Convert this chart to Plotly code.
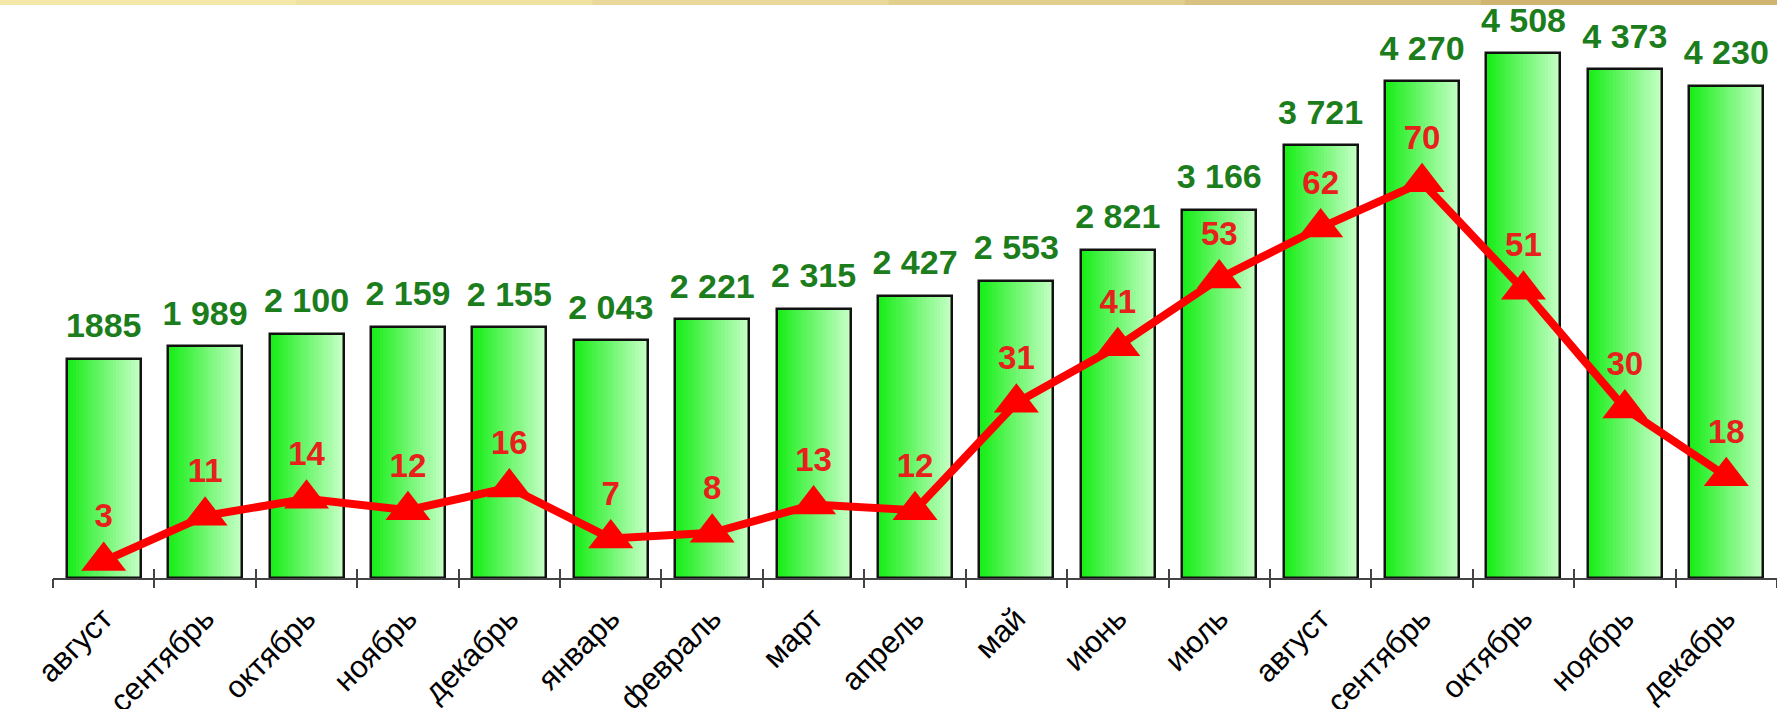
import plotly.graph_objects as go

months = ["август", "сентябрь", "октябрь", "ноябрь", "декабрь", "январь", "февраль",
          "март", "апрель", "май", "июнь", "июль", "август", "сентябрь", "октябрь",
          "ноябрь", "декабрь"]
bar_values = [1885, 1989, 2100, 2159, 2155, 2043, 2221, 2315, 2427, 2553, 2821,
              3166, 3721, 4270, 4508, 4373, 4230]
bar_labels = ["1885", "1 989", "2 100", "2 159", "2 155", "2 043", "2 221", "2 315",
              "2 427", "2 553", "2 821", "3 166", "3 721", "4 270", "4 508", "4 373",
              "4 230"]
line_values = [3, 11, 14, 12, 16, 7, 8, 13, 12, 31, 41, 53, 62, 70, 51, 30, 18]

# unique positional categories (months repeat across years)
x = list(range(len(months)))

FONT = "Arial, Liberation Sans, sans-serif"
BAR_W = 0.73
N_STRIPS = 24
c0 = (24, 238, 24)
c1 = (196, 255, 196)

fig = go.Figure()

for i in range(N_STRIPS):
    t = i / (N_STRIPS - 1)
    col = tuple(int(round(c0[k] + (c1[k] - c0[k]) * t)) for k in range(3))
    fig.add_trace(go.Bar(
        x=x, y=bar_values,
        width=BAR_W / N_STRIPS + 0.002,
        offset=-BAR_W / 2 + i * BAR_W / N_STRIPS,
        marker=dict(color="rgb(%d,%d,%d)" % col, line=dict(width=0)),
        showlegend=False, hoverinfo="skip",
    ))

# outline
fig.add_trace(go.Bar(
    x=x, y=bar_values, width=BAR_W, offset=-BAR_W / 2,
    marker=dict(color="rgba(0,0,0,0)", line=dict(color="#111111", width=2.5)),
    showlegend=False, hoverinfo="skip",
))

# green value labels
fig.add_trace(go.Scatter(
    x=x, y=bar_values, mode="markers+text", text=bar_labels,
    textposition="top center",
    marker=dict(size=19, opacity=0),
    textfont=dict(family=FONT, size=34, color="#1b7d1b", weight="bold"),
    showlegend=False, hoverinfo="skip", cliponaxis=False,
))

# red line
fig.add_trace(go.Scatter(
    x=x, y=line_values, yaxis="y2", mode="lines+markers+text",
    text=[str(v) for v in line_values], textposition="top center",
    line=dict(color="#ff0000", width=8),
    marker=dict(symbol="triangle-up", size=39, color="#ff0000"),
    textfont=dict(family=FONT, size=33, color="#e8201c", weight="bold"),
    showlegend=False, hoverinfo="skip", cliponaxis=False,
))

# top decorative band
band_cols = ["#f3e8a8", "#efe2a0", "#ead89a", "#e2cf8e", "#d9c27f", "#cfb46f"]
nb = len(band_cols)
x_left = -53 / 1724
span = 1 - x_left
for i, c in enumerate(band_cols):
    fig.add_shape(type="rect", xref="paper", yref="paper",
                  x0=x_left + span * i / nb, x1=x_left + span * (i + 1) / nb + 0.001,
                  y0=1.0178, y1=1.03,
                  fillcolor=c, line=dict(width=0), layer="above")

fig.update_layout(
    width=1777, height=709,
    margin=dict(l=53, r=0, t=15, b=131),
    paper_bgcolor="white", plot_bgcolor="white",
    barmode="overlay", bargap=0,
    xaxis=dict(
        tickmode="array", tickvals=x, ticktext=months,
        range=[-0.5, len(x) - 0.5],
        tickangle=-45, automargin=False,
        tickfont=dict(family=FONT, size=31, color="#000000"),
        showline=True, linecolor="#444444", linewidth=2,
        ticks="outside", ticklen=8, tickcolor="rgba(0,0,0,0)",
        showgrid=False, zeroline=False,
    ),
    xaxis2=dict(
        overlaying="x", matches="x", anchor="y", automargin=False,
        tickmode="array", tickvals=[v - 0.5 for v in x] + [len(x) - 0.5],
        ticks="inside", ticklen=9, tickwidth=1.5, tickcolor="#444444",
        showticklabels=False, showline=False, showgrid=False, zeroline=False,
        side="bottom",
    ),
    xaxis3=dict(
        overlaying="x", matches="x", anchor="y", automargin=False,
        tickmode="array", tickvals=[v - 0.5 for v in x] + [len(x) - 0.5],
        ticks="outside", ticklen=9, tickwidth=1.5, tickcolor="#444444",
        showticklabels=False, showline=False, showgrid=False, zeroline=False,
        side="bottom",
    ),
    yaxis=dict(range=[0, 4837], visible=False, showgrid=False, zeroline=False,
               automargin=False),
    yaxis2=dict(range=[0, 99.6], overlaying="y", visible=False,
                showgrid=False, zeroline=False, automargin=False),
)

# attach tick-only traces to helper axes
fig.add_trace(go.Scatter(x=[x[0]], y=[0], xaxis="x2", mode="markers",
                         marker=dict(opacity=0), showlegend=False, hoverinfo="skip"))
fig.add_trace(go.Scatter(x=[x[0]], y=[0], xaxis="x3", mode="markers",
                         marker=dict(opacity=0), showlegend=False, hoverinfo="skip"))

fig.write_html("out.html",
               config={"displayModeBar": False},
               post_script="document.body.style.margin='0';"
                           "document.body.style.overflow='hidden';")
